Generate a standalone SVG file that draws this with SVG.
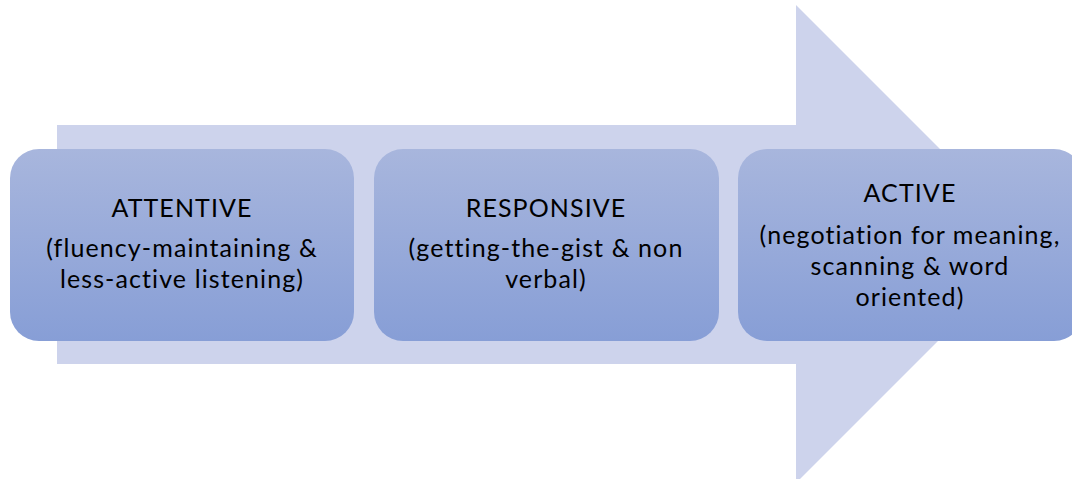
<svg xmlns="http://www.w3.org/2000/svg" width="1072" height="479" viewBox="0 0 1072 479">
<defs>
<linearGradient id="g" x1="0" y1="0" x2="0" y2="1">
<stop offset="0" stop-color="#A8B6DD"/>
<stop offset="1" stop-color="#879ED6"/>
</linearGradient>
<style>
.box{fill:url(#g);}
.t{font-family:Lato,"Liberation Sans",sans-serif;font-size:25px;letter-spacing:1.1px;fill:#000;text-anchor:middle;}
</style>
</defs>
<rect width="1072" height="479" fill="#fff"/>
<g id="arrow">
<polygon points="57,125 796,125 796,5 1035,244 796,483 796,364 57,364" fill="#CDD3EC"/>
</g>
<g id="connectors"></g>
<g id="attentive">
<rect class="box" x="10" y="149" width="344" height="192" rx="29"/>
<text class="t" x="182" y="217">ATTENTIVE</text>
<text class="t" x="182" y="257">(fluency-maintaining &amp;</text>
<text class="t" x="182" y="288">less-active listening)</text>
</g>
<g id="responsive">
<rect class="box" x="374" y="149" width="345" height="192" rx="29"/>
<text class="t" x="546" y="217">RESPONSIVE</text>
<text class="t" x="546" y="257">(getting-the-gist &amp; non</text>
<text class="t" x="546" y="288">verbal)</text>
</g>
<g id="active">
<rect class="box" x="738" y="149" width="345" height="192" rx="29"/>
<text class="t" x="910" y="202">ACTIVE</text>
<text class="t" x="910" y="244">(negotiation for meaning,</text>
<text class="t" x="910" y="275">scanning &amp; word</text>
<text class="t" x="910" y="306">oriented)</text>
</g>
</svg>
